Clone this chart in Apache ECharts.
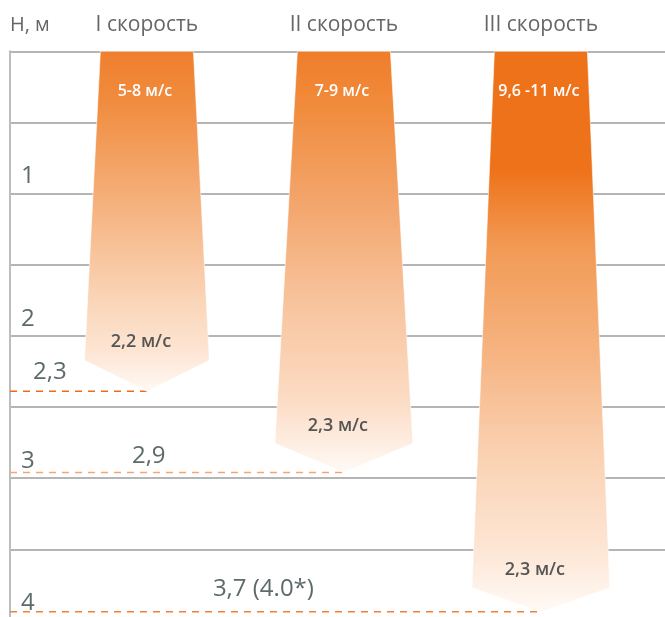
<!DOCTYPE html>
<html><head><meta charset="utf-8">
<script src="https://cdn.jsdelivr.net/npm/echarts@6/dist/echarts.min.js"></script>
<style>html,body{margin:0;padding:0;background:#fff}#c{width:665px;height:617px}</style>
</head><body><div id="c"></div>
<script>
// ---- data ----
const categories = ['I скорость', 'II скорость', 'III скорость'];
const startSpeed = ['5-8 м/с', '7-9 м/с', '9,6 -11 м/с'];
const endSpeed = ['2,2 м/с', '2,3 м/с', '2,3 м/с'];
const reach = [2.39, 2.96, 3.94];            // depth of jet tip on the H axis, m
const reachLabels = ['2,3', '2,9', '3,7 (4.0*)'];
const yTicks = [1, 2, 3, 4];

// ---- layout / style (not data) ----
const X_MIN = -0.695, X_MAX = 2.63;
const JET_SHAPE = [
  {top: 0.236, bottom: 0.317, head: 0.218},
  {top: 0.236, bottom: 0.350, head: 0.204},
  {top: 0.236, bottom: 0.350, head: 0.169}
];
const JET_STOPS = [
  [[0,'#ef7f2e'],[0.14,'#f08b3d'],[0.44,'#f5b07b'],[0.73,'#fad5b8'],[0.88,'#fde5d3'],[1,'#fff9f5']],
  [[0,'#ef7d2b'],[0.12,'#f08a3a'],[0.35,'#f3a46a'],[0.59,'#f7c39c'],[0.83,'#fcdcc5'],[1,'#fffaf6']],
  [[0,'#ee7219'],[0.21,'#ee7219'],[0.35,'#f29a55'],[0.53,'#f6b27f'],[0.71,'#fad0b0'],[0.89,'#fde6d5'],[1,'#fffaf6']]
];
const DASH_COLORS = ['#f06a1c', '#f5a571', '#f08238'];
const REACH_LABEL_X = [-0.578, -0.076, 0.335];   // left edge of reach label, x-units
const REACH_LABEL_DY = [19, 16, 23];             // px above the dashed line
const TXT = '#5d6a6a';
const FONT = '"Open Sans", "Noto Sans", sans-serif';

const chart = echarts.init(document.getElementById('c'));
chart.setOption({
  animation: false,
  backgroundColor: '#fff',
  grid: {left: 10, right: 0, top: 51.3, height: 569.1, outerBoundsMode: 'none', containLabel: false},
  xAxis: {type: 'value', min: X_MIN, max: X_MAX, show: false},
  yAxis: {
    type: 'value', inverse: true, min: 0, max: 4, interval: 0.5,
    name: 'H, м', nameLocation: 'start', nameGap: 26,
    nameTextStyle: {align: 'left', verticalAlign: 'middle', fontSize: 20, color: '#666', fontFamily: FONT},
    axisLine: {show: true, onZero: false, lineStyle: {color: '#bdbdbd', width: 2}},
    axisTick: {show: false},
    splitLine: {show: true, lineStyle: {color: '#9c9c9c', width: 1.5}},
    axisLabel: {
      inside: true, margin: 11, fontSize: 24, color: TXT, fontFamily: FONT,
      verticalAlign: 'bottom', padding: [0, 0, 5, 0],
      formatter: v => yTicks.includes(v) ? String(v) : ''
    }
  },
  series: [{
    type: 'custom',
    clip: false,
    data: categories.map((c, i) => [i, reach[i]]),
    renderItem(params, api) {
      const i = api.value(0), r = api.value(1);
      const s = JET_SHAPE[i];
      const p = (x, y) => api.coord([x, y]);
      const tl = p(i - s.top, 0), tr = p(i + s.top, 0);
      const br = p(i + s.bottom, r - s.head), bl = p(i - s.bottom, r - s.head);
      const tip = p(i, r), left = p(X_MIN, r);
      const lbl = p(REACH_LABEL_X[i], r);
      return {type: 'group', children: [
        {type: 'line', shape: {x1: left[0], y1: left[1], x2: tip[0], y2: tip[1]},
          style: {stroke: DASH_COLORS[i], lineWidth: 1.5, lineDash: [7, 6]}},
        {type: 'polygon', shape: {points: [tl, tr, br, tip, bl]},
          style: {fill: new echarts.graphic.LinearGradient(0, 0, 0, 1, JET_STOPS[i].map(a => ({offset: a[0], color: a[1]}))),
                  stroke: 'rgba(255,255,255,0.55)', lineWidth: 1}},
        {type: 'text', x: tl[0] / 2 + tr[0] / 2, y: tl[1] - 26,
          style: {text: categories[i], fill: '#666', fontSize: 21, fontFamily: FONT, align: 'center', verticalAlign: 'middle'}},
        {type: 'text', x: tl[0] / 2 + tr[0] / 2 - 2, y: tl[1] + 40.5,
          style: {text: startSpeed[i], fill: '#fff', fontSize: 16, fontWeight: 600, fontFamily: FONT, align: 'center', verticalAlign: 'middle'}},
        {type: 'text', x: tip[0] - 6, y: br[1] - 18,
          style: {text: endSpeed[i], fill: '#555', fontSize: 18, fontWeight: 600, fontFamily: FONT, align: 'center', verticalAlign: 'middle'}},
        {type: 'text', x: lbl[0], y: lbl[1] - REACH_LABEL_DY[i],
          style: {text: reachLabels[i], fill: TXT, fontSize: 24, fontFamily: FONT, align: 'left', verticalAlign: 'middle'}}
      ]};
    }
  }]
});
</script></body></html>
